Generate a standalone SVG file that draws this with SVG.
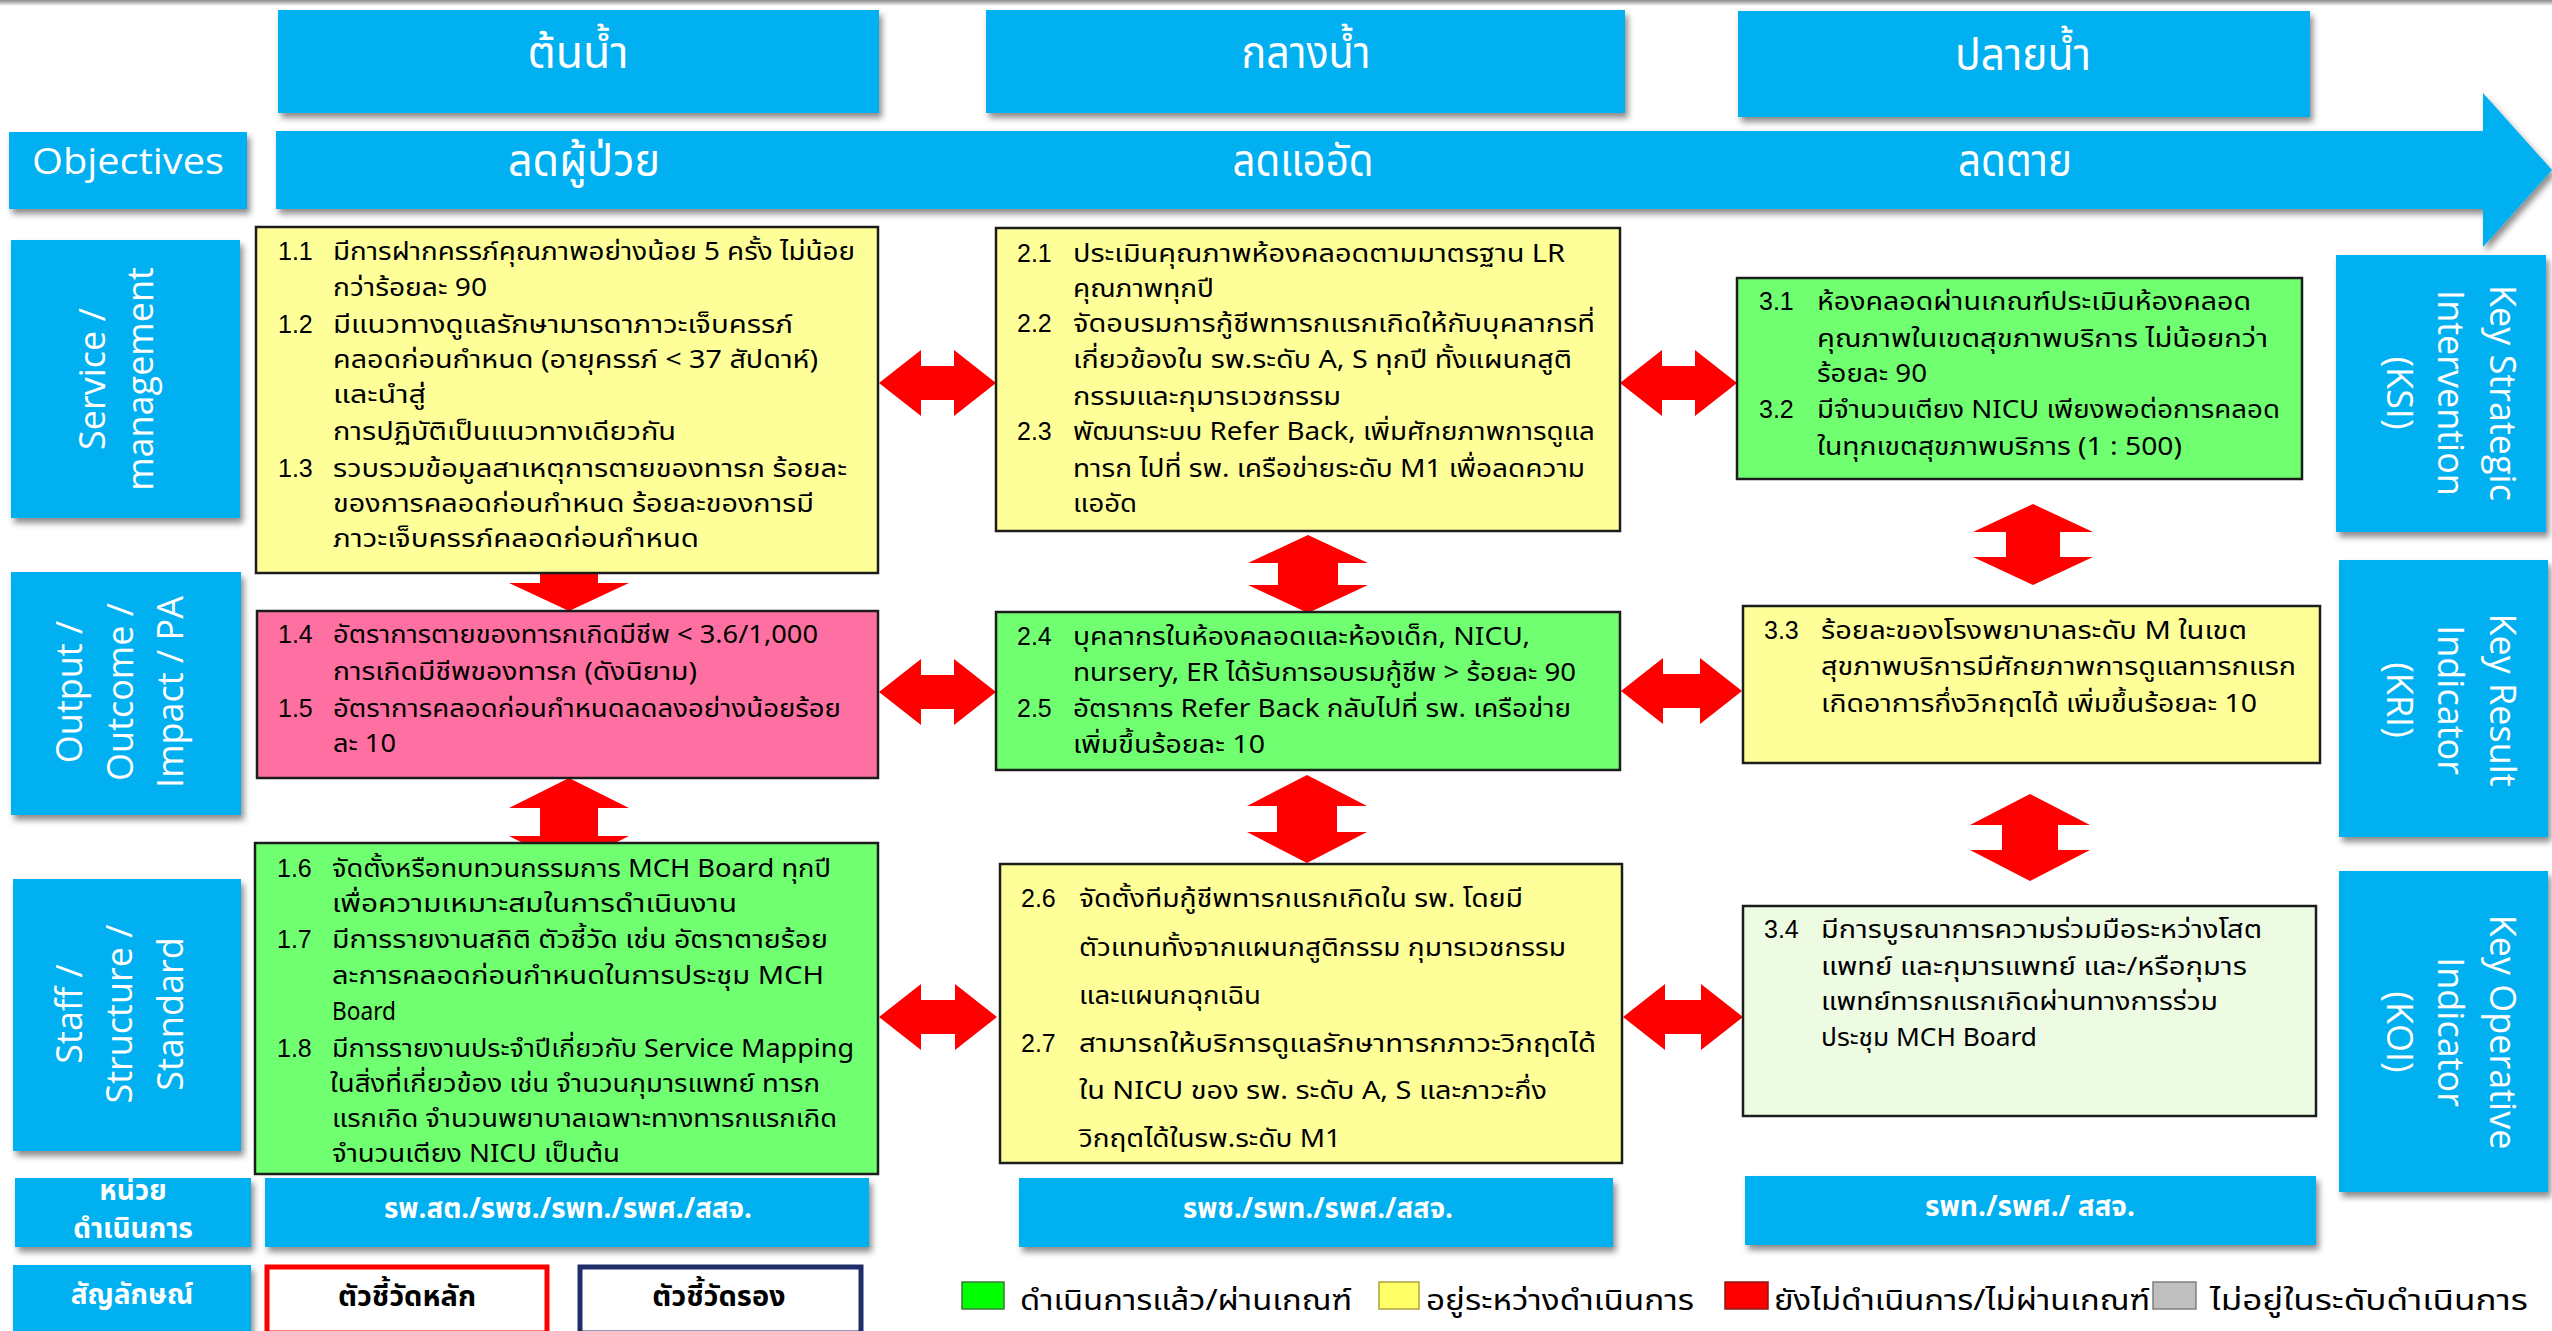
<svg xmlns="http://www.w3.org/2000/svg" width="2552" height="1331" viewBox="0 0 2552 1331">
<defs>
<filter id="sh" x="-10%" y="-10%" width="130%" height="130%">
<feDropShadow dx="3" dy="5" stdDeviation="3" flood-color="#000" flood-opacity="0.45"/>
</filter>
<linearGradient id="topg" x1="0" y1="0" x2="0" y2="1">
<stop offset="0" stop-color="#8a8a8a"/><stop offset="1" stop-color="#ffffff"/>
</linearGradient>
<style>
.blue{fill:#00B0F0;filter:url(#sh)}
.lbl{font-family:"Open Sans","Noto Sans","DejaVu Sans",sans-serif;font-size:36px;fill:#fff;text-anchor:middle}
.hd{font-family:"Noto Sans Thai","Loma","Garuda","Norasi","Liberation Sans","DejaVu Sans",sans-serif;font-size:44px;fill:#fff;text-anchor:middle}
.c{font-family:"Noto Sans Thai","Loma","Garuda","Norasi","Liberation Sans","DejaVu Sans",sans-serif;font-size:25px;fill:#000}
.n{font-family:"Liberation Sans","Noto Sans Thai",sans-serif;font-size:25px;fill:#000}
.bx{stroke:#1c1c1c;stroke-width:2.5}
.y{fill:#FFFF99}.g{fill:#70FF70}.p{fill:#FF70A2}.lg{fill:#EEFBE3}
.arr{fill:#FF0000}
.bt{font-family:"Noto Sans Thai","Loma","Garuda","Liberation Sans",sans-serif;font-size:28px;font-weight:bold;fill:#fff;text-anchor:middle}
.lt{font-family:"Noto Sans Thai","Loma","Garuda","Liberation Sans",sans-serif;font-size:29px;fill:#000}
</style>
</defs>
<rect x="0" y="0" width="2552" height="1331" fill="#fff"/>
<rect x="0" y="0" width="2552" height="6" fill="url(#topg)"/>

<!-- connectors -->
<g id="connectors">
<polygon class="arr" points="879,383 921,350 921,366 954,366 954,350 996,383 954,416 954,400 921,400 921,416"/>
<polygon class="arr" points="1620,383 1662,350 1662,366 1695,366 1695,350 1737,383 1695,416 1695,400 1662,400 1662,416"/>
<polygon class="arr" points="879,692 921,659 921,675 954,675 954,659 996,692 954,725 954,709 921,709 921,725"/>
<polygon class="arr" points="1621,691 1663,658 1663,674 1700,674 1700,658 1742,691 1700,724 1700,708 1663,708 1663,724"/>
<polygon class="arr" points="879,1017 921,984 921,1000 955,1000 955,984 997,1017 955,1050 955,1034 921,1034 921,1050"/>
<polygon class="arr" points="1623,1017 1665,984 1665,1000 1701,1000 1701,984 1743,1017 1701,1050 1701,1034 1665,1034 1665,1050"/>
<polygon class="arr" points="569,533 629,562 598,562 598,583 629,583 569,611 509,583 540,583 540,562 509,562"/>
<polygon class="arr" points="569,778 629,808 598,808 598,836 629,836 569,866 509,836 540,836 540,808 509,808"/>
<polygon class="arr" points="1308,535 1368,563 1338,563 1338,585 1368,585 1308,613 1248,585 1278,585 1278,563 1248,563"/>
<polygon class="arr" points="1307,775 1367,806 1337,806 1337,832 1367,832 1307,863 1247,832 1277,832 1277,806 1247,806"/>
<polygon class="arr" points="2033,504 2093,532 2060,532 2060,557 2093,557 2033,585 1973,557 2006,557 2006,532 1973,532"/>
<polygon class="arr" points="2030,794 2090,825 2058,825 2058,850 2090,850 2030,881 1970,850 2002,850 2002,825 1970,825"/>
</g>

<!-- header -->
<g id="h-ton"><rect class="blue" x="278" y="10" width="601" height="103"/><text class="hd" x="578" y="68" textLength="101" lengthAdjust="spacingAndGlyphs">ต้นน้ำ</text></g>
<g id="h-klang"><rect class="blue" x="986" y="10" width="639" height="103"/><text class="hd" x="1306" y="68" textLength="129" lengthAdjust="spacingAndGlyphs">กลางน้ำ</text></g>
<g id="h-plai"><rect class="blue" x="1738" y="11" width="572" height="106"/><text class="hd" x="2023" y="70" textLength="136" lengthAdjust="spacingAndGlyphs">ปลายน้ำ</text></g>

<g id="objectives"><rect class="blue" x="9" y="132" width="238" height="77"/><text class="lbl" x="128" y="174" font-size="39" textLength="192" lengthAdjust="spacingAndGlyphs">Objectives</text></g>
<g id="obj-arrow">
<polygon class="blue" points="276,131 2483,131 2483,93 2552,170 2483,247 2483,209 276,209"/>
<text class="hd" x="584" y="176" textLength="152" lengthAdjust="spacingAndGlyphs">ลดผู้ป่วย</text>
<text class="hd" x="1303" y="176" textLength="141" lengthAdjust="spacingAndGlyphs">ลดแออัด</text>
<text class="hd" x="2015" y="176" textLength="114" lengthAdjust="spacingAndGlyphs">ลดตาย</text>
</g>

<!-- left labels -->
<g id="l-service"><rect class="blue" x="11" y="240" width="229" height="278"/>
<text class="lbl" transform="translate(105,379) rotate(-90)">Service /</text>
<text class="lbl" transform="translate(153,379) rotate(-90)">management</text></g>
<g id="l-output"><rect class="blue" x="11" y="572" width="230" height="243"/>
<text class="lbl" transform="translate(82,692) rotate(-90)">Output /</text>
<text class="lbl" transform="translate(133,692) rotate(-90)">Outcome /</text>
<text class="lbl" transform="translate(183,692) rotate(-90)">Impact / PA</text></g>
<g id="l-staff"><rect class="blue" x="13" y="879" width="228" height="272"/>
<text class="lbl" transform="translate(82,1014) rotate(-90)">Staff /</text>
<text class="lbl" transform="translate(132,1014) rotate(-90)">Structure /</text>
<text class="lbl" transform="translate(183,1014) rotate(-90)">Standard</text></g>

<!-- right labels -->
<g id="r-ksi"><rect class="blue" x="2336" y="255" width="210" height="277"/>
<text class="lbl" transform="translate(2490,393) rotate(90)">Key Strategic</text>
<text class="lbl" transform="translate(2438,393) rotate(90)">Intervention</text>
<text class="lbl" transform="translate(2387,393) rotate(90)">(KSI)</text></g>
<g id="r-kri"><rect class="blue" x="2339" y="560" width="209" height="277"/>
<text class="lbl" transform="translate(2490,700) rotate(90)">Key Result</text>
<text class="lbl" transform="translate(2438,700) rotate(90)">Indicator</text>
<text class="lbl" transform="translate(2387,700) rotate(90)">(KRI)</text></g>
<g id="r-koi"><rect class="blue" x="2339" y="871" width="209" height="321"/>
<text class="lbl" transform="translate(2490,1032) rotate(90)">Key Operative</text>
<text class="lbl" transform="translate(2438,1032) rotate(90)">Indicator</text>
<text class="lbl" transform="translate(2387,1032) rotate(90)">(KOI)</text></g>

<!-- content boxes -->
<g id="b11">
<rect class="bx y" x="256" y="227" width="622" height="346"/>
<text class="n" x="278" y="260">1.1</text>
<text class="c" x="333" y="260" textLength="522" lengthAdjust="spacingAndGlyphs">มีการฝากครรภ์คุณภาพอย่างน้อย 5 ครั้ง ไม่น้อย</text>
<text class="c" x="333" y="296" textLength="154" lengthAdjust="spacingAndGlyphs">กว่าร้อยละ 90</text>
<text class="n" x="278" y="333">1.2</text>
<text class="c" x="333" y="333" textLength="460" lengthAdjust="spacingAndGlyphs">มีแนวทางดูแลรักษามารดาภาวะเจ็บครรภ์</text>
<text class="c" x="333" y="368" textLength="485" lengthAdjust="spacingAndGlyphs">คลอดก่อนกำหนด (อายุครรภ์ &lt; 37 สัปดาห์)</text>
<text class="c" x="333" y="403" textLength="93" lengthAdjust="spacingAndGlyphs">และนำสู่</text>
<text class="c" x="333" y="440" textLength="343" lengthAdjust="spacingAndGlyphs">การปฏิบัติเป็นแนวทางเดียวกัน</text>
<text class="n" x="278" y="477">1.3</text>
<text class="c" x="333" y="477" textLength="514" lengthAdjust="spacingAndGlyphs">รวบรวมข้อมูลสาเหตุการตายของทารก ร้อยละ</text>
<text class="c" x="333" y="512" textLength="481" lengthAdjust="spacingAndGlyphs">ของการคลอดก่อนกำหนด ร้อยละของการมี</text>
<text class="c" x="333" y="547" textLength="366" lengthAdjust="spacingAndGlyphs">ภาวะเจ็บครรภ์คลอดก่อนกำหนด</text>
</g>
<g id="b21">
<rect class="bx y" x="996" y="228" width="624" height="303"/>
<text class="n" x="1017" y="262">2.1</text>
<text class="c" x="1073" y="262" textLength="492" lengthAdjust="spacingAndGlyphs">ประเมินคุณภาพห้องคลอดตามมาตรฐาน LR</text>
<text class="c" x="1073" y="297" textLength="141" lengthAdjust="spacingAndGlyphs">คุณภาพทุกปี</text>
<text class="n" x="1017" y="332">2.2</text>
<text class="c" x="1073" y="332" textLength="522" lengthAdjust="spacingAndGlyphs">จัดอบรมการกู้ชีพทารกแรกเกิดให้กับบุคลากรที่</text>
<text class="c" x="1073" y="368" textLength="499" lengthAdjust="spacingAndGlyphs">เกี่ยวข้องใน รพ.ระดับ A, S ทุกปี ทั้งแผนกสูติ</text>
<text class="c" x="1073" y="405" textLength="268" lengthAdjust="spacingAndGlyphs">กรรมและกุมารเวชกรรม</text>
<text class="n" x="1017" y="440">2.3</text>
<text class="c" x="1073" y="440" textLength="522" lengthAdjust="spacingAndGlyphs">พัฒนาระบบ Refer Back, เพิ่มศักยภาพการดูแล</text>
<text class="c" x="1073" y="477" textLength="512" lengthAdjust="spacingAndGlyphs">ทารก ไปที่ รพ. เครือข่ายระดับ M1 เพื่อลดความ</text>
<text class="c" x="1073" y="512" textLength="64" lengthAdjust="spacingAndGlyphs">แออัด</text>
</g>
<g id="b31">
<rect class="bx g" x="1737" y="278" width="565" height="201"/>
<text class="n" x="1759" y="310">3.1</text>
<text class="c" x="1817" y="310" textLength="434" lengthAdjust="spacingAndGlyphs">ห้องคลอดผ่านเกณฑ์ประเมินห้องคลอด</text>
<text class="c" x="1817" y="347" textLength="451" lengthAdjust="spacingAndGlyphs">คุณภาพในเขตสุขภาพบริการ ไม่น้อยกว่า</text>
<text class="c" x="1817" y="382" textLength="110" lengthAdjust="spacingAndGlyphs">ร้อยละ 90</text>
<text class="n" x="1759" y="418">3.2</text>
<text class="c" x="1817" y="418" textLength="463" lengthAdjust="spacingAndGlyphs">มีจำนวนเตียง NICU เพียงพอต่อการคลอด</text>
<text class="c" x="1817" y="455" textLength="365" lengthAdjust="spacingAndGlyphs">ในทุกเขตสุขภาพบริการ (1 : 500)</text>
</g>
<g id="b14">
<rect class="bx p" x="257" y="611" width="621" height="167"/>
<text class="n" x="278" y="643">1.4</text>
<text class="c" x="333" y="643" textLength="485" lengthAdjust="spacingAndGlyphs">อัตราการตายของทารกเกิดมีชีพ &lt; 3.6/1,000</text>
<text class="c" x="333" y="680" textLength="364" lengthAdjust="spacingAndGlyphs">การเกิดมีชีพของทารก (ดังนิยาม)</text>
<text class="n" x="278" y="717">1.5</text>
<text class="c" x="333" y="717" textLength="508" lengthAdjust="spacingAndGlyphs">อัตราการคลอดก่อนกำหนดลดลงอย่างน้อยร้อย</text>
<text class="c" x="333" y="752" textLength="63" lengthAdjust="spacingAndGlyphs">ละ 10</text>
</g>
<g id="b24">
<rect class="bx g" x="996" y="612" width="624" height="158"/>
<text class="n" x="1017" y="645">2.4</text>
<text class="c" x="1073" y="645" textLength="457" lengthAdjust="spacingAndGlyphs">บุคลากรในห้องคลอดและห้องเด็ก, NICU,</text>
<text class="c" x="1073" y="681" textLength="503" lengthAdjust="spacingAndGlyphs">nursery, ER ได้รับการอบรมกู้ชีพ &gt; ร้อยละ 90</text>
<text class="n" x="1017" y="717">2.5</text>
<text class="c" x="1073" y="717" textLength="498" lengthAdjust="spacingAndGlyphs">อัตราการ Refer Back กลับไปที่ รพ. เครือข่าย</text>
<text class="c" x="1073" y="753" textLength="192" lengthAdjust="spacingAndGlyphs">เพิ่มขึ้นร้อยละ 10</text>
</g>
<g id="b33">
<rect class="bx y" x="1743" y="606" width="577" height="157"/>
<text class="n" x="1764" y="639">3.3</text>
<text class="c" x="1821" y="639" textLength="426" lengthAdjust="spacingAndGlyphs">ร้อยละของโรงพยาบาลระดับ M ในเขต</text>
<text class="c" x="1821" y="675" textLength="475" lengthAdjust="spacingAndGlyphs">สุขภาพบริการมีศักยภาพการดูแลทารกแรก</text>
<text class="c" x="1821" y="712" textLength="436" lengthAdjust="spacingAndGlyphs">เกิดอาการกึ่งวิกฤตได้ เพิ่มขึ้นร้อยละ 10</text>
</g>
<g id="b16">
<rect class="bx g" x="255" y="843" width="623" height="331"/>
<text class="n" x="277" y="877">1.6</text>
<text class="c" x="332" y="877" textLength="499" lengthAdjust="spacingAndGlyphs">จัดตั้งหรือทบทวนกรรมการ MCH Board ทุกปี</text>
<text class="c" x="332" y="912" textLength="405" lengthAdjust="spacingAndGlyphs">เพื่อความเหมาะสมในการดำเนินงาน</text>
<text class="n" x="277" y="948">1.7</text>
<text class="c" x="332" y="948" textLength="496" lengthAdjust="spacingAndGlyphs">มีการรายงานสถิติ ตัวชี้วัด เช่น อัตราตายร้อย</text>
<text class="c" x="332" y="984" textLength="492" lengthAdjust="spacingAndGlyphs">ละการคลอดก่อนกำหนดในการประชุม MCH</text>
<text class="c" x="332" y="1020" textLength="64" lengthAdjust="spacingAndGlyphs">Board</text>
<text class="n" x="277" y="1057">1.8</text>
<text class="c" x="332" y="1057" textLength="522" lengthAdjust="spacingAndGlyphs">มีการรายงานประจำปีเกี่ยวกับ Service Mapping</text>
<text class="c" x="330" y="1092" textLength="490" lengthAdjust="spacingAndGlyphs">ในสิ่งที่เกี่ยวข้อง เช่น จำนวนกุมารแพทย์ ทารก</text>
<text class="c" x="332" y="1127" textLength="505" lengthAdjust="spacingAndGlyphs">แรกเกิด จำนวนพยาบาลเฉพาะทางทารกแรกเกิด</text>
<text class="c" x="332" y="1162" textLength="288" lengthAdjust="spacingAndGlyphs">จำนวนเตียง NICU เป็นต้น</text>
</g>
<g id="b26">
<rect class="bx y" x="1000" y="864" width="622" height="299"/>
<text class="n" x="1021" y="907">2.6</text>
<text class="c" x="1079" y="907" textLength="444" lengthAdjust="spacingAndGlyphs">จัดตั้งทีมกู้ชีพทารกแรกเกิดใน รพ. โดยมี</text>
<text class="c" x="1079" y="956" textLength="487" lengthAdjust="spacingAndGlyphs">ตัวแทนทั้งจากแผนกสูติกรรม กุมารเวชกรรม</text>
<text class="c" x="1079" y="1004" textLength="182" lengthAdjust="spacingAndGlyphs">และแผนกฉุกเฉิน</text>
<text class="n" x="1021" y="1052">2.7</text>
<text class="c" x="1079" y="1052" textLength="517" lengthAdjust="spacingAndGlyphs">สามารถให้บริการดูแลรักษาทารกภาวะวิกฤตได้</text>
<text class="c" x="1079" y="1099" textLength="468" lengthAdjust="spacingAndGlyphs">ใน NICU ของ รพ. ระดับ A, S และภาวะกึ่ง</text>
<text class="c" x="1079" y="1147" textLength="262" lengthAdjust="spacingAndGlyphs">วิกฤตได้ในรพ.ระดับ M1</text>
</g>
<g id="b34">
<rect class="bx lg" x="1743" y="906" width="573" height="210"/>
<text class="n" x="1764" y="938">3.4</text>
<text class="c" x="1821" y="938" textLength="441" lengthAdjust="spacingAndGlyphs">มีการบูรณาการความร่วมมือระหว่างโสต</text>
<text class="c" x="1821" y="975" textLength="426" lengthAdjust="spacingAndGlyphs">แพทย์ และกุมารแพทย์ และ/หรือกุมาร</text>
<text class="c" x="1821" y="1010" textLength="397" lengthAdjust="spacingAndGlyphs">แพทย์ทารกแรกเกิดผ่านทางการร่วม</text>
<text class="c" x="1821" y="1046" textLength="216" lengthAdjust="spacingAndGlyphs">ประชุม MCH Board</text>
</g>

<!-- bottom rows -->
<g id="l-unit"><rect class="blue" x="15" y="1178" width="236" height="69"/>
<text class="bt" x="133" y="1200">หน่วย</text>
<text class="bt" x="133" y="1238">ดำเนินการ</text></g>
<g id="u1"><rect class="blue" x="265" y="1178" width="604" height="69"/><text class="bt" x="568" y="1218" textLength="368" lengthAdjust="spacingAndGlyphs">รพ.สต./รพช./รพท./รพศ./สสจ.</text></g>
<g id="u2"><rect class="blue" x="1019" y="1178" width="594" height="69"/><text class="bt" x="1318" y="1218" textLength="270" lengthAdjust="spacingAndGlyphs">รพช./รพท./รพศ./สสจ.</text></g>
<g id="u3"><rect class="blue" x="1745" y="1176" width="571" height="69"/><text class="bt" x="2030" y="1216" textLength="210" lengthAdjust="spacingAndGlyphs">รพท./รพศ./ สสจ.</text></g>

<g id="l-symbol"><rect class="blue" x="13" y="1265" width="238" height="70"/>
<text class="bt" x="132" y="1304">สัญลักษณ์</text></g>
<g id="sym-main"><rect x="267" y="1267" width="280" height="66" fill="#fff" stroke="#FF0000" stroke-width="5"/>
<text class="lt" x="407" y="1306" text-anchor="middle" font-weight="bold" font-size="24">ตัวชี้วัดหลัก</text></g>
<g id="sym-sub"><rect x="580" y="1267" width="281" height="66" fill="#fff" stroke="#1F2E6B" stroke-width="5"/>
<text class="lt" x="719" y="1306" text-anchor="middle" font-weight="bold" font-size="24">ตัวชี้วัดรอง</text></g>

<g id="legend">
<rect x="962" y="1282" width="42" height="27" fill="#00FF00" stroke="#3a7a3a" stroke-width="1.5"/>
<text class="lt" x="1020" y="1310" textLength="332" lengthAdjust="spacingAndGlyphs">ดำเนินการแล้ว/ผ่านเกณฑ์</text>
<rect x="1379" y="1282" width="40" height="27" fill="#FFFF66" stroke="#b0a040" stroke-width="1.5"/>
<text class="lt" x="1426" y="1310" textLength="268" lengthAdjust="spacingAndGlyphs">อยู่ระหว่างดำเนินการ</text>
<rect x="1725" y="1282" width="43" height="27" fill="#FF0000" stroke="#8a1a1a" stroke-width="1.5"/>
<text class="lt" x="1774" y="1310" textLength="376" lengthAdjust="spacingAndGlyphs">ยังไม่ดำเนินการ/ไม่ผ่านเกณฑ์</text>
<rect x="2153" y="1282" width="43" height="27" fill="#BFBFBF" stroke="#808080" stroke-width="1.5"/>
<text class="lt" x="2210" y="1310" textLength="318" lengthAdjust="spacingAndGlyphs">ไม่อยู่ในระดับดำเนินการ</text>
</g>
</svg>
